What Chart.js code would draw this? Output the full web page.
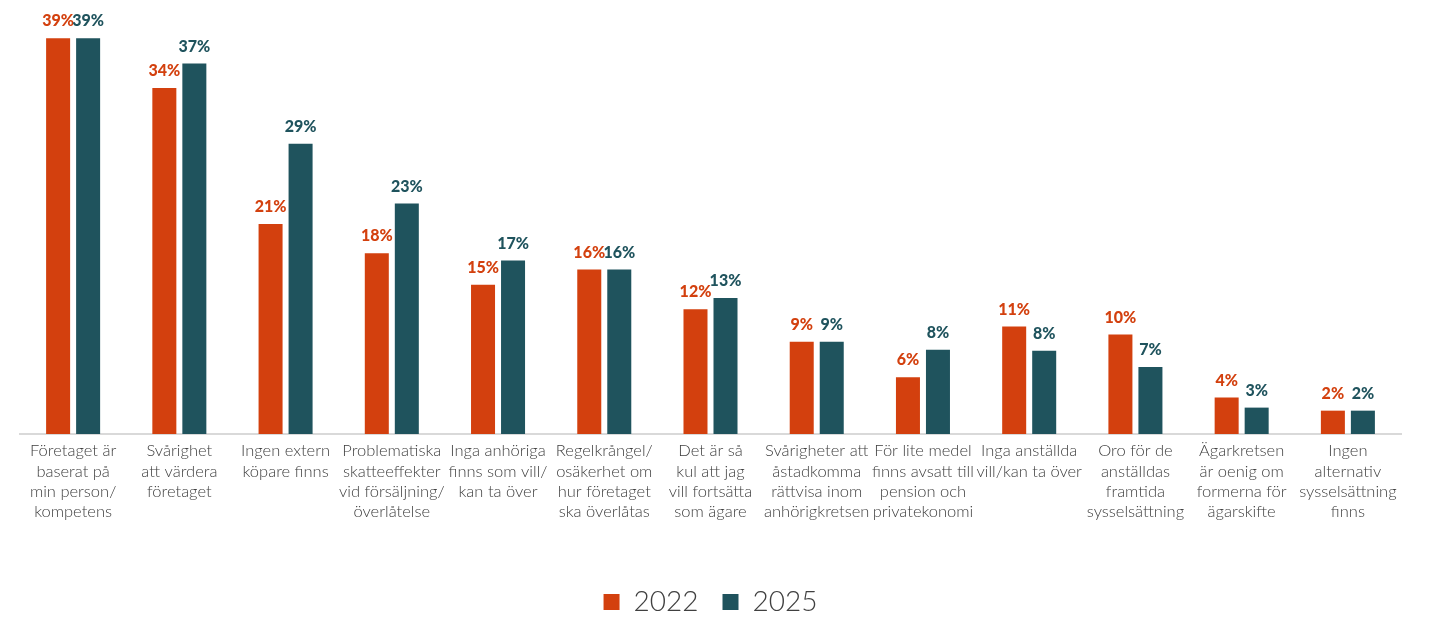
<!DOCTYPE html>
<html>
<head>
<meta charset="utf-8">
<script src="https://cdn.jsdelivr.net/npm/chart.js@4"></script>
<style>
  html, body { margin: 0; padding: 0; background: #fff; }
  #wrap { width: 1433px; height: 628px; }
</style>
</head>
<body>
<div id="wrap"><canvas id="chartCanvas"></canvas></div>
<script>
// --- data ---
const categories = [
  ["Företaget är", "baserat på", "min person/", "kompetens"],
  ["Svårighet", "att värdera", "företaget"],
  ["Ingen extern", "köpare finns"],
  ["Problematiska", "skatteeffekter", "vid försäljning/", "överlåtelse"],
  ["Inga anhöriga", "finns som vill/", "kan ta över"],
  ["Regelkrångel/", "osäkerhet om", "hur företaget", "ska överlåtas"],
  ["Det är så", "kul att jag", "vill fortsätta", "som ägare"],
  ["Svårigheter att", "åstadkomma", "rättvisa inom", "anhörigkretsen"],
  ["För lite medel", "finns avsatt till", "pension och", "privatekonomi"],
  ["Inga anställda", "vill/kan ta över"],
  ["Oro för de", "anställdas", "framtida", "sysselsättning"],
  ["Ägarkretsen", "är oenig om", "formerna för", "ägarskifte"],
  ["Ingen", "alternativ", "sysselsättning", "finns"]
];
const values2022 = [39.0, 34.1, 20.7, 17.8, 14.7, 16.2, 12.3, 9.1, 5.6, 10.6, 9.8, 3.6, 2.3];
const values2025 = [39.0, 36.5, 28.6, 22.7, 17.1, 16.2, 13.4, 9.1, 8.3, 8.2, 6.6, 2.6, 2.3];
const seriesNames = ["2022", "2025"];

const ORANGE = "#D3400E";
const TEAL = "#1F535D";

// value labels above each bar
const barLabels = {
  id: "barLabels",
  afterDatasetsDraw(chart) {
    const ctx = chart.ctx;
    ctx.save();
    ctx.font = "900 16px Lato";
    ctx.textAlign = "center";
    ctx.textBaseline = "bottom";
    chart.data.datasets.forEach((ds, i) => {
      const meta = chart.getDatasetMeta(i);
      ctx.fillStyle = ds.backgroundColor;
      meta.data.forEach((bar, j) => {
        ctx.fillText(Math.round(ds.data[j]) + "%", bar.x, bar.y - 9);
      });
    });
    ctx.restore();
  }
};

new Chart(document.getElementById("chartCanvas"), {
  type: "bar",
  data: {
    labels: categories,
    datasets: [
      { label: seriesNames[0], data: values2022, backgroundColor: ORANGE },
      { label: seriesNames[1], data: values2025, backgroundColor: TEAL }
    ]
  },
  options: {
    responsive: true,
    maintainAspectRatio: false,
    animation: false,
    datasets: { bar: { categoryPercentage: 0.565, barPercentage: 0.8 } },
    layout: { padding: { top: 28, left: 20, right: 32, bottom: 2 } },
    plugins: {
      tooltip: { enabled: false },
      legend: {
        position: "bottom",
        labels: {
          color: "#404040",
          font: { family: "Lato", size: 28, weight: "300" },
          boxWidth: 16,
          boxHeight: 16,
          padding: 24
        }
      }
    },
    scales: {
      x: {
        grid: { display: false, drawTicks: false },
        border: { color: "#d9d9d9", width: 2 },
        ticks: {
          color: "#404040",
          font: { family: "Lato", size: 16.5, weight: "300", lineHeight: 1.22 },
          maxRotation: 0,
          autoSkip: false,
          padding: 7
        },
        afterFit(scale) { scale.height = 130; }
      },
      y: {
        display: false,
        min: 0,
        max: 40
      }
    }
  },
  plugins: [barLabels]
});
</script>
</body>
</html>
